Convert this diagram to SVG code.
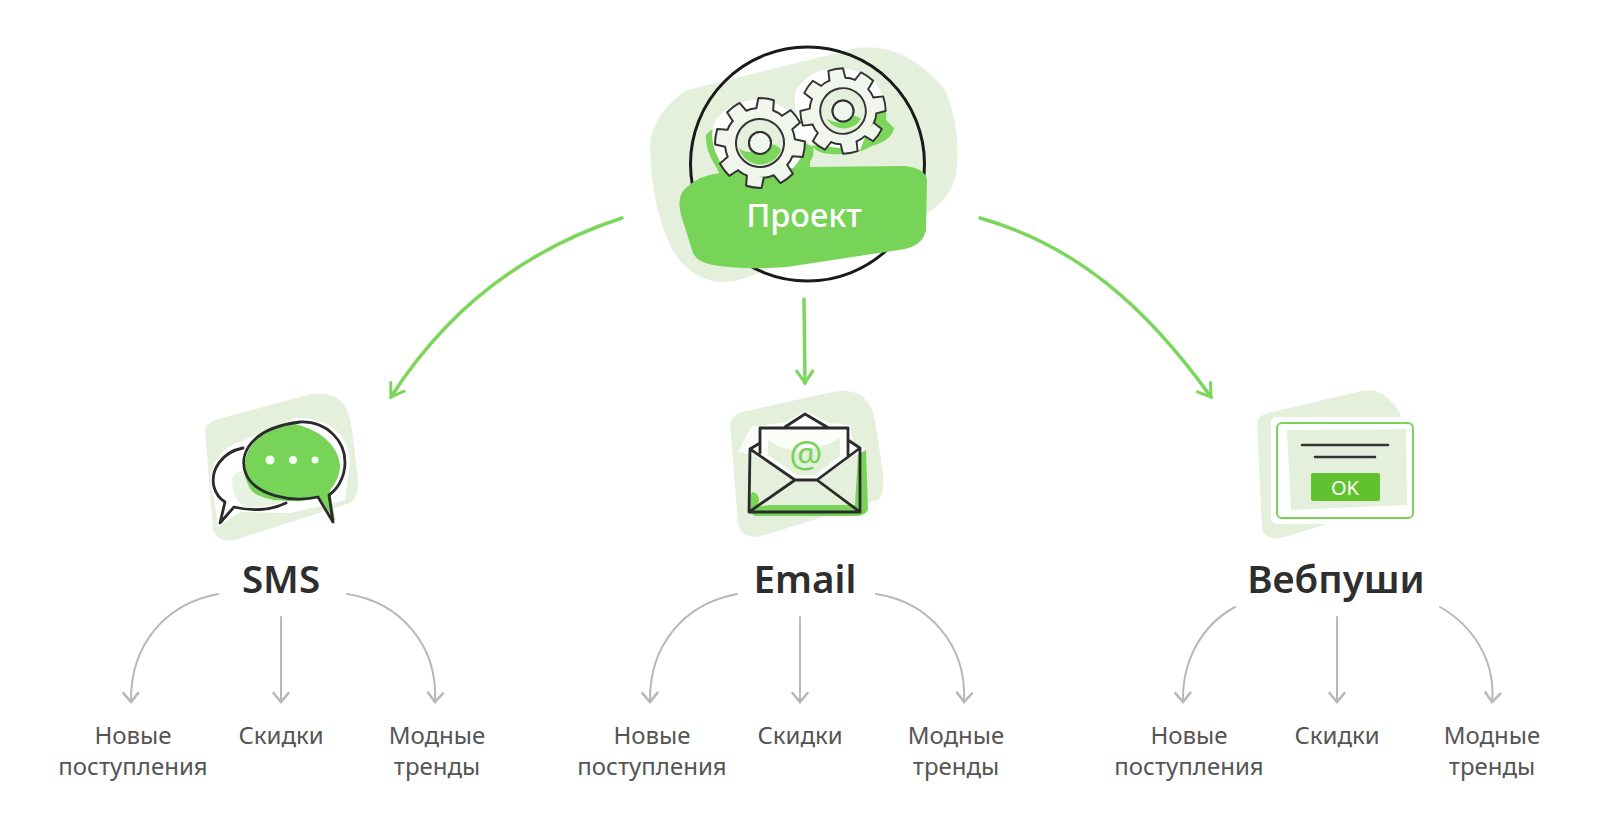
<svg xmlns="http://www.w3.org/2000/svg" width="1600" height="840" viewBox="0 0 1600 840">
<style>
text{font-family:"Noto Sans","Open Sans",sans-serif;text-anchor:middle}
.lbl{font-size:24px;fill:#555}
.ttl{font-size:38.500px;font-weight:600;fill:#2e2e2e}
.blob{fill:#e4f0dc}
.ink{fill:none;stroke:#2b2b2b;stroke-width:2.800;stroke-linejoin:round;stroke-linecap:round}
.gr{fill:none;stroke:#7bd65b;stroke-width:3.500;stroke-linecap:round}
.gy{fill:none;stroke:#b8b8b8;stroke-width:2;stroke-linecap:round}
.tooth{fill:#f1f6ec;stroke:#333;stroke-width:2;stroke-linejoin:round;stroke-linecap:round}
</style>
<defs>
<marker id="ag" viewBox="0 0 20 20" refX="17" refY="10" markerWidth="20" markerHeight="20" markerUnits="userSpaceOnUse" orient="auto"><path d="M5 2L17 10L5 18" fill="none" stroke="#7bd65b" stroke-width="3" stroke-linecap="round"/></marker>
<marker id="ay" viewBox="0 0 18 18" refX="15" refY="9" markerWidth="18" markerHeight="18" markerUnits="userSpaceOnUse" orient="auto"><path d="M6 1.500L15 9L6 16.500" fill="none" stroke="#b8b8b8" stroke-width="2.500" stroke-linecap="round"/></marker>
<path id="t" class="tooth" d="M-8.500 -34L-7.800 -44.300Q0 -45.500 7.800 -44.300L8.500 -34Q13.500 -33 18 -30"/>
<g id="gear">
<use href="#t"/><use href="#t" transform="rotate(45)"/><use href="#t" transform="rotate(90)"/><use href="#t" transform="rotate(135)"/><use href="#t" transform="rotate(180)"/><use href="#t" transform="rotate(225)"/><use href="#t" transform="rotate(270)"/><use href="#t" transform="rotate(315)"/>
<circle r="33.500" fill="#f1f6ec"/>
<circle r="24" fill="#e4f0dc" stroke="#333" stroke-width="2"/>
<circle r="11" fill="#f1f6ec" stroke="#333" stroke-width="2"/>
</g>
</defs>
<rect width="1600" height="840" fill="#fff"/>

<g id="connectors">
<path class="gr" marker-end="url(#ag)" d="M622 218C530 248 450 305 391 397"/>
<path class="gr" marker-end="url(#ag)" d="M804 299L805 383"/>
<path class="gr" marker-end="url(#ag)" d="M980 218C1075 245 1145 305 1211 397"/>
<path class="gy" marker-end="url(#ay)" d="M218 594C165 604 130 645 131 702"/>
<path class="gy" marker-end="url(#ay)" d="M281 617L281 702"/>
<path class="gy" marker-end="url(#ay)" d="M347 594C400 602 438 645 435 702"/>
<path class="gy" marker-end="url(#ay)" d="M737 594C684 604 649 645 650 702"/>
<path class="gy" marker-end="url(#ay)" d="M800 617L800 702"/>
<path class="gy" marker-end="url(#ay)" d="M876 594C929 602 967 645 964 702"/>
<path class="gy" marker-end="url(#ay)" d="M1235 607C1202 625 1182 660 1183 702"/>
<path class="gy" marker-end="url(#ay)" d="M1337 617L1337 702"/>
<path class="gy" marker-end="url(#ay)" d="M1440 607C1472 625 1496 660 1492 702"/>
</g>

<g id="node-project">
<path class="blob" d="M650 143Q654 112 687 90L837 53Q860 44 885 49Q920 58 945 90Q960 125 957 163Q957 195 927 213L760 272Q735 285 713 281Q685 275 670 245Q650 200 650 143Z"/>
<circle cx="807.500" cy="164" r="117" fill="none" stroke="#1a1a1a" stroke-width="3"/>
<path d="M706 135Q712 128 722 125L800 140L813 147Q815 155 810 162L810 175L722 178L715 165Q705 150 706 135Z" fill="#7bd65b"/>
<path d="M806 128L880 100Q888 108 886 120L894 128Q892 140 872 146Q855 156 830 154Q812 153 810 140Z" fill="#7bd65b"/>
<path d="M716 120Q730 100 760 100Q795 105 806 135Q806 160 785 175L725 170Q705 140 716 120Z" fill="#fff"/>
<path d="M796 90Q810 68 840 68Q875 72 882 95L860 150L810 145Q790 110 796 90Z" fill="#fff"/>
<path d="M687 187Q700 175 720 173L810 167L905 166Q925 168 927 180L926 230Q923 245 905 249L787 267Q740 270 713 265Q695 262 692 250L681 215Q676 195 687 187Z" fill="#78d458"/>
<use href="#gear" transform="translate(760 143) rotate(8)"/>
<path d="M739 148A22 22 0 0 0 781 150Q775 140 762 148Q748 156 739 148Z" fill="#7bd65b"/>
<circle cx="760" cy="143" r="11" fill="#f1f6ec" stroke="#333" stroke-width="2"/>
<use href="#gear" transform="translate(843 111) rotate(-10) scale(.95)"/>
<path d="M827 119A20 20 0 0 0 861 119Q851 111 846 121Q839 125 827 119Z" fill="#7bd65b"/>
<circle cx="843" cy="111" r="10.500" fill="#f1f6ec" stroke="#333" stroke-width="2"/>
<text x="804" y="227" style="font-size:32.500px;font-weight:500;fill:#fff">Проект</text>
</g>

<g id="node-sms">
<path class="blob" d="M205 430Q206 424 215 420L307 395Q330 390 342 402Q350 412 352 430L358 480Q359 498 350 503L235 540Q218 543 213 530Z"/>
<path d="M240 442C212 450 206 480 214 497L218 527L240 512L290 513L325 505L345 500L350 462C348 430 325 418 295 418Z" fill="#fff"/>
<path d="M232 478C240 465 250 470 262 495L285 503L250 508Q232 505 232 478Z" fill="#e8f3e2"/>
<path d="M243 448C222 452 210 470 214 487C216 494 220 499 225 502L220 523L234 507C250 511 270 511 286 503" class="ink"/>
<path d="M295 424C320 430 338 445 340 465C340 480 330 494 318 498C290 505 255 500 250 488C238 470 242 430 295 424Z" fill="#78d458"/>
<path d="M318 495L335 521L330 490Z" fill="#78d458"/>
<path class="ink" d="M318 497C290 503 255 495 246 474C238 455 250 428 300 422C328 421 345 442 345 462C345 480 335 491 329 495L333 522Z"/>
<circle cx="270" cy="460" r="4.500" fill="#f4f9f1"/><circle cx="293" cy="460" r="4" fill="#f4f9f1"/><circle cx="315" cy="460" r="3.500" fill="#f4f9f1"/>
<text x="281" y="593" class="ttl">SMS</text>
<text x="133" y="744" class="lbl">Новые</text><text x="133" y="775" class="lbl">поступления</text>
<text x="281" y="744" class="lbl">Скидки</text>
<text x="437" y="744" class="lbl">Модные</text><text x="437" y="775" class="lbl">тренды</text>
</g>

<g id="node-email">
<path class="blob" d="M730 423Q732 415 742 412L827 393Q850 388 862 396Q872 405 875 420L883 473Q885 495 878 500L765 535Q745 542 738 525Z"/>
<path d="M751 427L785 422L805 411L830 423L850 425L853 442L866 448L862 452L848 458L817 482L795 482L755 455L738 452Z" fill="#fff" opacity=".8"/>
<path d="M760 428L848 428L848 455L817 480L795 480L760 453Z" fill="#fbfdf9"/>
<path d="M768 440Q800 462 840 438L840 456L815 475L797 475L768 455Z" fill="#e4f0dc"/>
<path d="M749 512Q748 500 752 492Q758 492 759 500Q759 505 755 507L770 505L855 505L858 455L866 450L868 510Q865 516 855 516L755 516Z" fill="#78d458"/>
<path class="ink" d="M760 453L760 428L848 428L848 455M785 427L805 414L827 427M760 443L750 449L795 480L817 480L860 448L848 440M750 449L749 512L860 512L860 448M749 512L795 480M860 512L817 480"/>
<text x="806" y="467" style="font-size:37px;fill:#78d458">@</text>
<text x="805" y="593" class="ttl">Email</text>
<text x="652" y="744" class="lbl">Новые</text><text x="652" y="775" class="lbl">поступления</text>
<text x="800" y="744" class="lbl">Скидки</text>
<text x="956" y="744" class="lbl">Модные</text><text x="956" y="775" class="lbl">тренды</text>
</g>

<g id="node-webpush">
<path class="blob" d="M1257 422Q1258 416 1268 413L1357 392Q1375 387 1385 396Q1397 405 1403 420L1330 523L1285 537Q1268 542 1262 530Z"/>
<rect x="1271" y="417" width="150" height="107" rx="6" fill="#fff"/>
<rect x="1277" y="423" width="136" height="95" rx="5" fill="#fff" stroke="#78d458" stroke-width="2"/>
<path d="M1287 430L1406 429L1407 505L1291 510Z" fill="#e4f0dc"/>
<path d="M1302 445L1388 445M1315 457L1375 457" stroke="#333" stroke-width="2.500" stroke-linecap="round"/>
<rect x="1311" y="473" width="69" height="28" rx="2" fill="#5fc22e"/>
<text x="1345" y="495" style="font-size:20px;fill:#fff">OK</text>
<text x="1336" y="593" class="ttl">Вебпуши</text>
<text x="1189" y="744" class="lbl">Новые</text><text x="1189" y="775" class="lbl">поступления</text>
<text x="1337" y="744" class="lbl">Скидки</text>
<text x="1492" y="744" class="lbl">Модные</text><text x="1492" y="775" class="lbl">тренды</text>
</g>
</svg>
